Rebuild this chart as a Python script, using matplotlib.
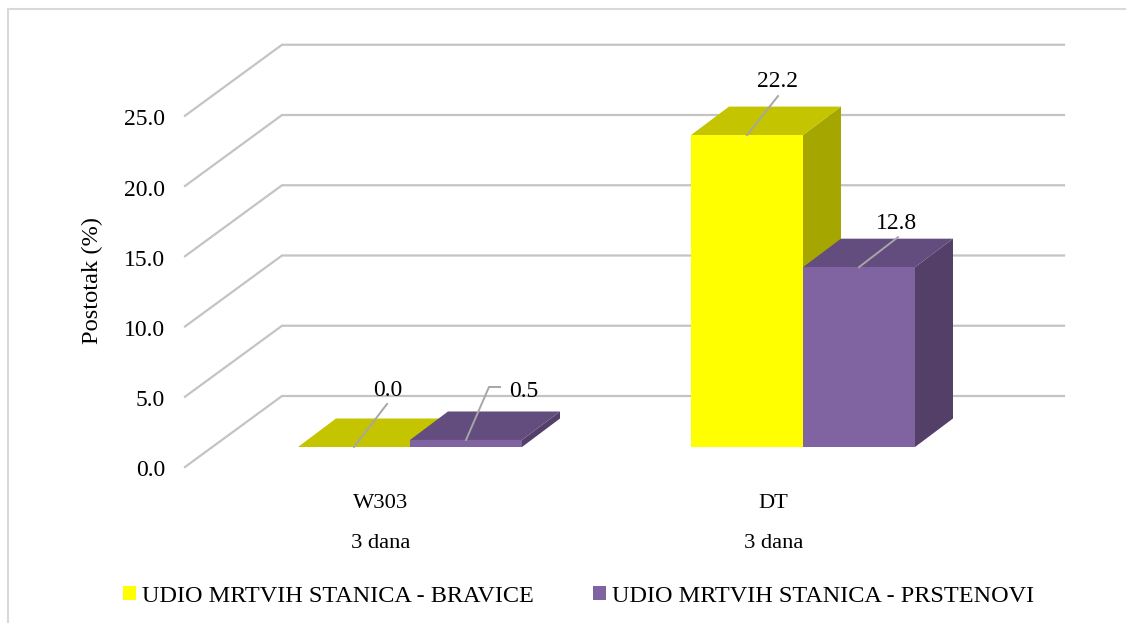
import matplotlib
matplotlib.use("Agg")
import matplotlib.pyplot as plt
from matplotlib.patches import Polygon, Patch, Rectangle

plt.rcParams['font.family'] = ['Liberation Serif', 'DejaVu Serif']

# Data
groups = ['W303', 'DT']
durations = ['3 dana', '3 dana']
series_names = ['UDIO MRTVIH STANICA - BRAVICE', 'UDIO MRTVIH STANICA - PRSTENOVI']
bravice = [0.0, 22.2]
prstenovi = [0.5, 12.8]
y_ticks = [0.0, 5.0, 10.0, 15.0, 20.0, 25.0]

# Colours: front, top, side
yellow = ['#FFFF00', '#C4C400', '#A6A600']
purple = ['#8064A2', '#634C7E', '#533F68']
grid_col = '#C4C4C4'

# Scale of the axes: pixels per category step and per percent
W, H = 1126, 623
PX_X = 393.0
PX_Y = 14.05
X0_PX = 410.0   # pixel of category 0 at the bar front plane
Y0_PX = 447.0   # pixel of 0 percent at the bar front plane
FS = 17

fig = plt.figure(figsize=(W / 100, H / 100), dpi=100)
ax = fig.add_axes([0, 0, 1, 1])
ax.set_xlim(-X0_PX / PX_X, (W - X0_PX) / PX_X)
ax.set_ylim((Y0_PX - H) / PX_Y, Y0_PX / PX_Y)
ax.axis('off')


def dx(px):
    return px / PX_X


def dy(px):
    return px / PX_Y


# Chart frame
ax.add_patch(Rectangle((dx(8 - X0_PX), dy(Y0_PX - 640)), dx(1140), dy(631),
                       fill=False, edgecolor='#D9D9D9', linewidth=1.5, clip_on=True))

# Floor front edge sits 20 px below the bars, wall is 97 px right and 71 px up from it
front_x = dx(185 - X0_PX)
back_x = dx(282 - X0_PX)
right_x = dx(1064 - X0_PX)
floor = dy(-20)
depth_y = dy(71)

# Gridlines with their slanted part on the side wall
for t in y_ticks:
    ax.plot([front_x, back_x, right_x],
            [floor + t, floor + t + depth_y, floor + t + depth_y],
            color=grid_col, linewidth=1.6, solid_joinstyle='miter', zorder=1)
    ax.text(dx(165 - X0_PX), floor + t - dy(4), f"{t:.1f}", ha='right', va='center',
            fontsize=FS, color='black')

# Bars
bar_w = dx(112)
bar_dx = dx(38)
bar_dy = dy(28.5)


def bar3d(x, val, cols, z):
    h = val
    ax.add_patch(Polygon([(x + bar_w, 0), (x + bar_w + bar_dx, bar_dy),
                          (x + bar_w + bar_dx, h + bar_dy), (x + bar_w, h)],
                         facecolor=cols[2], edgecolor='none', zorder=z))
    ax.add_patch(Polygon([(x, h), (x + bar_w, h), (x + bar_w + bar_dx, h + bar_dy),
                          (x + bar_dx, h + bar_dy)],
                         facecolor=cols[1], edgecolor='none', zorder=z))
    ax.add_patch(Rectangle((x, 0), bar_w, h, facecolor=cols[0], edgecolor='none', zorder=z))


for i in range(len(groups)):
    bar3d(i - bar_w, bravice[i], yellow, 2)
    bar3d(i, prstenovi[i], purple, 3)

# Value labels with leader lines (offsets in pixels from the bar top)
label_pos = [
    (-bar_w / 2, bravice[0], [(0, 0), (33, 43)], (34, 56)),
    (bar_w / 2, prstenovi[0], [(0, 0), (23, 53), (34, 53)], (58, 48)),
    (1 - bar_w / 2, bravice[1], [(0, 0), (31, 39)], (31, 54)),
    (1 + bar_w / 2, prstenovi[1], [(0, 0), (39, 30)], (37, 44)),
]
for x, val, leader, txt in label_pos:
    ax.plot([x + dx(p[0]) for p in leader], [val + dy(p[1]) for p in leader],
            color='#A6A6A6', linewidth=1.4, zorder=4)
    ax.text(x + dx(txt[0]), val + dy(txt[1]), f"{val:.1f}", ha='center', va='center',
            fontsize=FS, color='black', zorder=5)

# Category labels
for i in range(len(groups)):
    ax.text(i - dx(29.5), dy(Y0_PX - 503), groups[i], ha='center', va='center', fontsize=FS - 0.8)
    ax.text(i - dx(29.5), dy(Y0_PX - 543), durations[i], ha='center', va='center', fontsize=FS - 0.8)

ax.text(dx(92 - X0_PX), dy(Y0_PX - 281), 'Postotak (%)', rotation=90, ha='center', va='center',
        fontsize=17.6)

handles = [Patch(facecolor=yellow[0], label=series_names[0]),
           Patch(facecolor=purple[0], label=series_names[1])]
fig.legend(handles=handles, ncol=2, frameon=False, fontsize=17.5,
           loc='center', bbox_to_anchor=(578.5 / W, 1 - 596 / H),
           handlelength=0.55, handleheight=0.55, handletextpad=0.25, columnspacing=2.4)

plt.savefig("out.png", dpi=100)
